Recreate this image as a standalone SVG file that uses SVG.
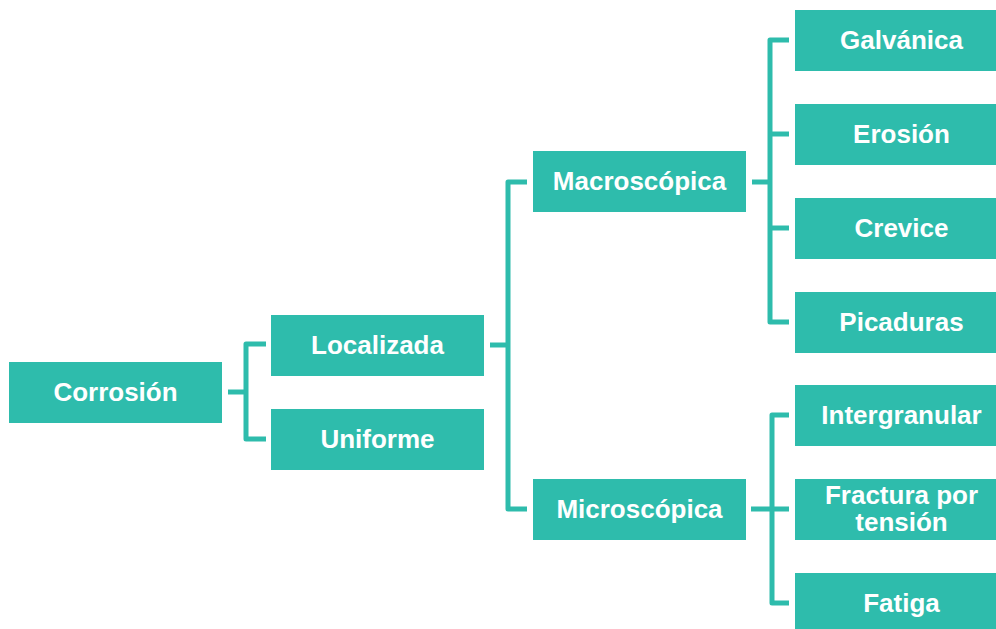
<svg xmlns="http://www.w3.org/2000/svg" width="996" height="629" viewBox="0 0 996 629">
<style>
.box{fill:#2EBCAC}
.t{fill:#ffffff;font-family:"Liberation Sans",Arial,sans-serif;font-weight:bold;font-size:26px;text-anchor:middle}
.c{fill:none;stroke:#2EBCAC;stroke-width:5;stroke-linejoin:round;stroke-linecap:butt}
</style>
<rect width="996" height="629" fill="#ffffff"/>
<g id="connectors">
<path class="c" d="M228,392 H246"/>
<path class="c" d="M266,344 H246 V439 H266"/>
<path class="c" d="M490,345 H508"/>
<path class="c" d="M527,182 H508 V509 H527"/>
<path class="c" d="M752,182 H770"/>
<path class="c" d="M789,40 H770 V322 H789"/>
<path class="c" d="M770,134 H789"/>
<path class="c" d="M770,228 H789"/>
<path class="c" d="M751,509 H789"/>
<path class="c" d="M789,415 H772 V603 H789"/>
</g>
<g id="corrosion"><rect class="box" x="9" y="362" width="213" height="61"/><text class="t" x="115.5" y="400.5">Corrosión</text></g>
<g id="localizada"><rect class="box" x="271" y="315" width="213" height="61"/><text class="t" x="377.5" y="353.5">Localizada</text></g>
<g id="uniforme"><rect class="box" x="271" y="409" width="213" height="61"/><text class="t" x="377.5" y="447.5">Uniforme</text></g>
<g id="macroscopica"><rect class="box" x="533" y="151" width="213" height="61"/><text class="t" x="639.5" y="189.5">Macroscópica</text></g>
<g id="microscopica"><rect class="box" x="533" y="479" width="213" height="61"/><text class="t" x="639.5" y="517.5">Microscópica</text></g>
<g id="galvanica"><rect class="box" x="795" y="10" width="213" height="61"/><text class="t" x="901.5" y="48.5">Galvánica</text></g>
<g id="erosion"><rect class="box" x="795" y="104" width="213" height="61"/><text class="t" x="901.5" y="142.5">Erosión</text></g>
<g id="crevice"><rect class="box" x="795" y="198" width="213" height="61"/><text class="t" x="901.5" y="236.5">Crevice</text></g>
<g id="picaduras"><rect class="box" x="795" y="292" width="213" height="61"/><text class="t" x="901.5" y="330.5">Picaduras</text></g>
<g id="intergranular"><rect class="box" x="795" y="385" width="213" height="61"/><text class="t" x="901.5" y="423.5">Intergranular</text></g>
<g id="fractura"><rect class="box" x="795" y="479" width="213" height="61"/><text class="t" x="901.5" y="504">Fractura por</text><text class="t" x="901.5" y="531">tensión</text></g>
<g id="fatiga"><rect class="box" x="795" y="573" width="213" height="61"/><text class="t" x="901.5" y="611.5">Fatiga</text></g>
</svg>
